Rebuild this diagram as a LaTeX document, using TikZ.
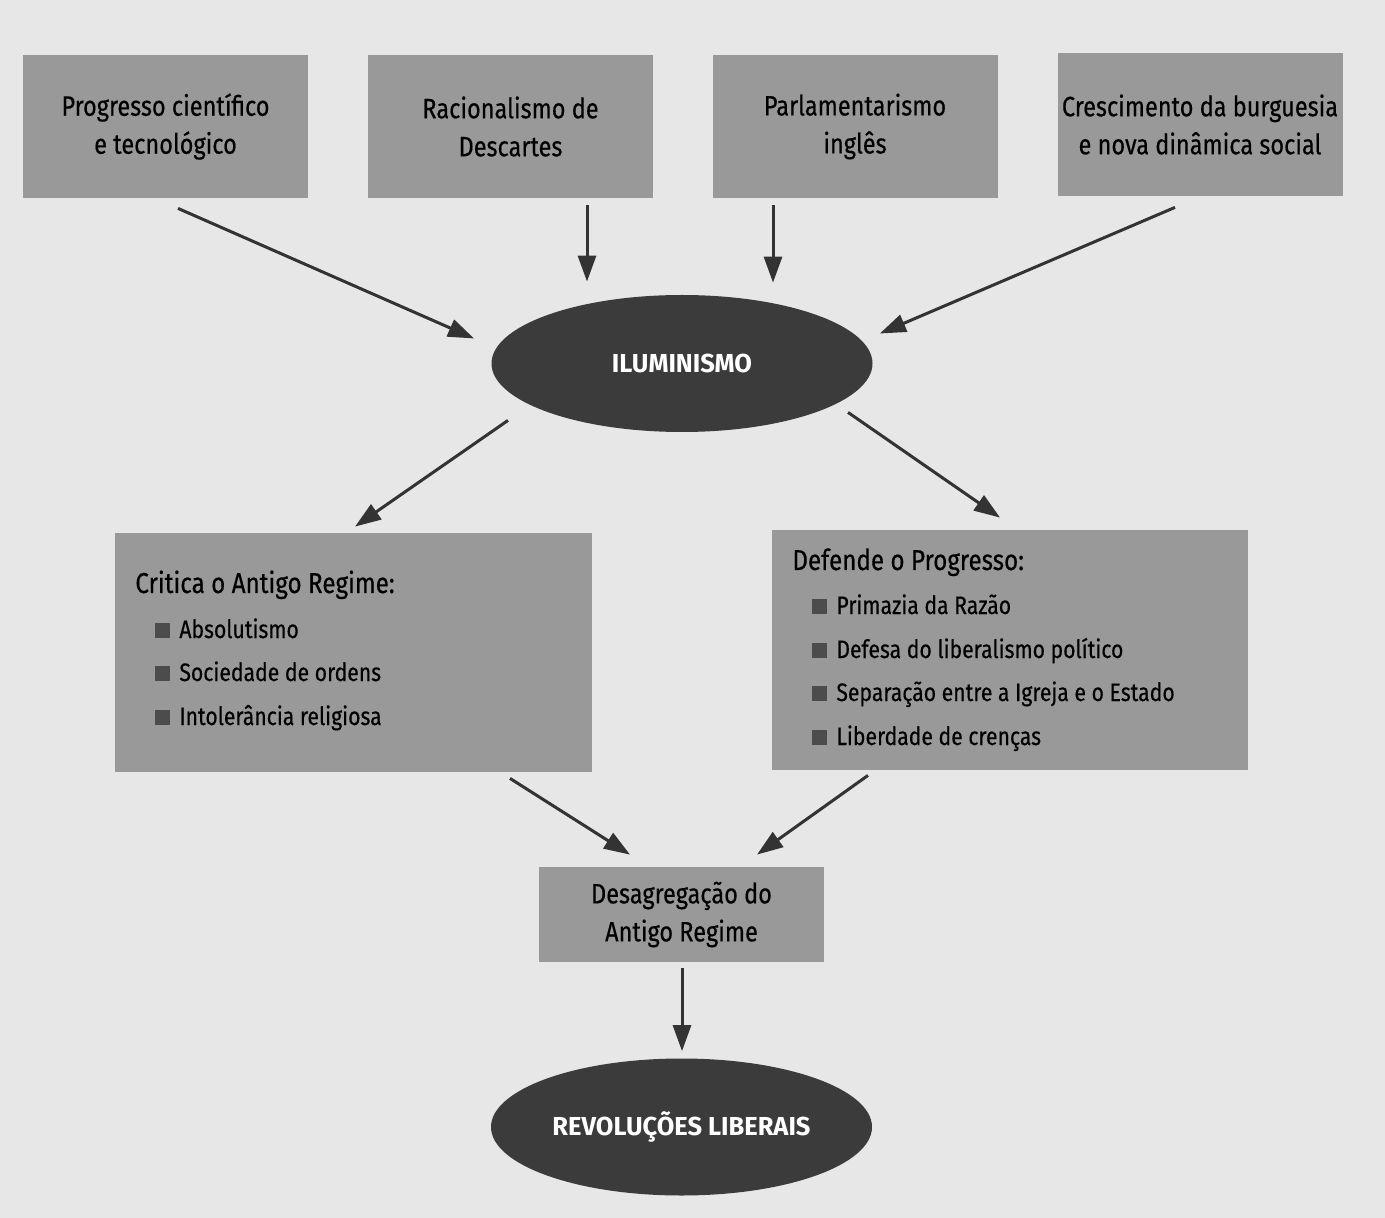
\documentclass[tikz,border=0pt]{standalone}
\usepackage{fontspec}
\setmainfont{Fira Sans}[FakeStretch=0.84,FakeBold=0.4]
\newfontfamily\ellfont{Fira Sans}[FakeStretch=0.98]
\usetikzlibrary{arrows.meta,calc,shapes.geometric}
\definecolor{bgc}{gray}{0.905}
\definecolor{boxc}{gray}{0.6}
\definecolor{ellc}{gray}{0.23}
\definecolor{arrc}{gray}{0.2}
\definecolor{bulc}{gray}{0.3}
\newcommand{\bul}{\textcolor{bulc}{\rule{7.5pt}{7.5pt}}\hspace{4.5pt}}
\tikzset{
  boxnode/.style={fill=boxc, draw=none, inner sep=0pt},
  topbox/.style={boxnode, minimum width=142.5pt, minimum height=71.5pt, align=center, font=\fontsize{14pt}{19pt}\selectfont},
  ellnode/.style={ellipse, fill=ellc, draw=none, inner sep=0pt, minimum width=190.5pt, minimum height=68.5pt, text=white, font=\ellfont\fontsize{13pt}{15pt}\selectfont\bfseries},
  lbl/.style={anchor=base west, inner sep=0pt, font=\fontsize{14.4pt}{19pt}\selectfont},
  item/.style={anchor=base west, inner sep=0pt, font=\fontsize{12.6pt}{17pt}\selectfont},
  arr/.style={draw=arrc, line width=1.5pt, -{Triangle[length=13pt,width=9pt]}}
}
\begin{document}
\begin{tikzpicture}[x=0.5pt,y=-0.5pt]
\fill[bgc] (0,0) rectangle (1385,1218);
\useasboundingbox (0,0) rectangle (1385,1218);

\node[topbox] (b1) at (165.5,126.5) {Progresso científico\\e tecnológico};
\node[topbox] (b2) at (510.5,126.5) {Racionalismo de\\Descartes};
\node[topbox] (b3) at (855,126.5) {Parlamentarismo\\inglês};
\node[topbox] (b4) at (1200,124.5) {Crescimento da burguesia\\e nova dinâmica social};

\node[ellnode] (ilu) at (682,363.5) {ILUMINISMO};

\node[boxnode, minimum width=238.5pt, minimum height=119.5pt] (lbox) at (353.5,652.5) {};
\node[boxnode, minimum width=238pt, minimum height=120pt] (rbox) at (1010,650) {};

\node[lbl] (lt) at (135,593) {Critica o Antigo Regime:};
\node[item] (l1) at (155,638) {\bul Absolutismo};
\node[item] (l2) at (155,681) {\bul Sociedade de ordens};
\node[item] (l3) at (155,725) {\bul Intolerância religiosa};

\node[lbl] (rt) at (792,570) {Defende o Progresso:};
\node[item] (r1) at (812,614) {\bul Primazia da Razão};
\node[item] (r2) at (812,658) {\bul Defesa do liberalismo político};
\node[item] (r3) at (812,701) {\bul Separação entre a Igreja e o Estado};
\node[item] (r4) at (812,745) {\bul Liberdade de crenças};

\node[boxnode, minimum width=142.5pt, minimum height=47.5pt, align=center, font=\fontsize{14pt}{19pt}\selectfont] (des) at (681.5,914.5) {Desagregação do\\Antigo Regime};

\node[ellnode] (rev) at (681.5,1127) {REVOLUÇÕES LIBERAIS};

\draw[arr] ($(b1.south)+(12.5,10)$) -- ($(ilu.west)+(-17,-25)$);
\draw[arr] ($(b2.south)+(76.5,7)$) -- ($(ilu.north)+(-95,-13)$);
\draw[arr] ($(b3.south)+(-82,7)$) -- ($(ilu.north)+(91,-12)$);
\draw[arr] ($(b4.south)+(-25,11)$) -- ($(ilu.east)+(7,-30)$);

\draw[arr] ($(ilu.south)+(-174,-12)$) -- ($(lbox.north)+(1.5,-6)$);
\draw[arr] ($(ilu.south)+(166,-20)$) -- ($(rbox.north)+(-10,-12)$);

\draw[arr] ($(lbox.south)+(156.5,6)$) -- ($(des.north)+(-51.5,-12)$);
\draw[arr] ($(rbox.south)+(-142,5)$) -- ($(des.north)+(75.5,-12)$);

\draw[arr] ($(des.south)+(0.5,6)$) -- ($(rev.north)+(0.5,-7)$);
\end{tikzpicture}
\end{document}
